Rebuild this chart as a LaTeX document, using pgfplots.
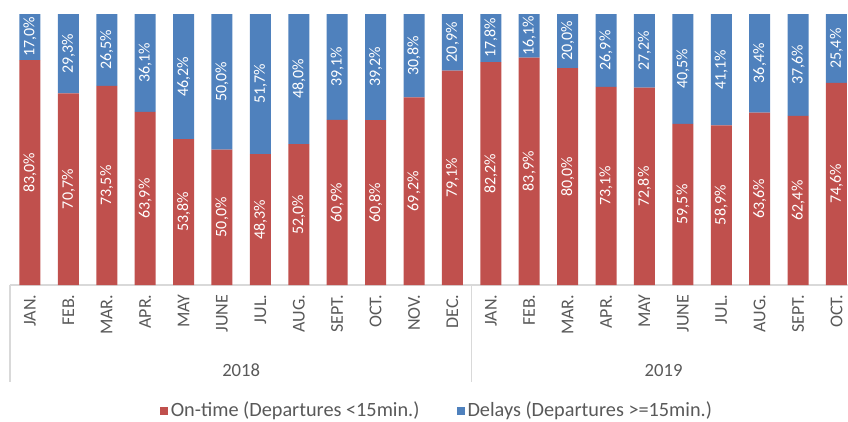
\documentclass[border=0pt]{standalone}
\usepackage{pgfplots}
\pgfplotsset{compat=1.18}
\usepackage{pgfplotstable}
\usepackage{fontspec}
\setmainfont{Carlito}
\definecolor{ontime}{HTML}{C0504D}
\definecolor{delay}{HTML}{4F81BD}
\definecolor{txt}{HTML}{595959}
\definecolor{gridc}{HTML}{D9D9D9}

\pgfplotstableread{
x on del
0 83.0 17.0
1 70.7 29.3
2 73.5 26.5
3 63.9 36.1
4 53.8 46.2
5 50.0 50.0
6 48.3 51.7
7 52.0 48.0
8 60.9 39.1
9 60.8 39.2
10 69.2 30.8
11 79.1 20.9
12 82.2 17.8
13 83.9 16.1
14 80.0 20.0
15 73.1 26.9
16 72.8 27.2
17 59.5 40.5
18 58.9 41.1
19 63.6 36.4
20 62.4 37.6
21 74.6 25.4
}\data

\pgfplotsset{base/.style={width=628.5pt, height=203.25pt, scale only axis,
  xmin=-0.52, xmax=21.3, ymin=0, ymax=100, clip=false}}

\begin{document}
\begin{tikzpicture}
\path[use as bounding box] (-7.5pt,-102pt) rectangle (628.5pt,213.75pt);
\begin{axis}[base, ybar stacked, bar width=15.75pt,
  axis y line=none, axis x line*=bottom,
  x axis line style={draw=gridc, line width=0.8pt},
  xtick={0,...,21},
  xticklabels={JAN.,FEB.,MAR.,APR.,MAY,JUNE,JUL.,AUG.,SEPT.,OCT.,NOV.,DEC.,JAN.,FEB.,MAR.,APR.,MAY,JUNE,JUL.,AUG.,SEPT.,OCT.},
  major tick length=0pt,
  x tick label style={rotate=90, anchor=east, font=\fontsize{13.5}{16}\selectfont, text=txt, inner sep=0pt, inner xsep=7pt},
  legend style={at={(0.51,-0.461)}, anchor=center, legend columns=2, draw=none, fill=none,
    font=\fontsize{15.2}{17}\selectfont, text=txt,
    /tikz/every even column/.append style={column sep=26pt}},
  legend image code/.code={\fill[#1] (0pt,-3.5pt) rectangle (6pt,2.5pt);},
]
\addplot[fill=ontime, draw=none] table[x=x,y=on]{\data};
\addlegendentry{On-time (Departures <15min.)}
\addplot[fill=delay, draw=none] table[x=x,y=del]{\data};
\addlegendentry{Delays (Departures >=15min.)}
\draw[gridc, line width=0.8pt] (rel axis cs:0,0) -- (rel axis cs:0,-0.358);
\draw[gridc, line width=0.8pt] (axis cs:11.5,0) -- ({axis cs:11.5,0} |- {rel axis cs:0,-0.358});
\node[font=\fontsize{14}{16}\selectfont, text=txt] at ({axis cs:5.5,0} |- {rel axis cs:0,-0.314}) {2018};
\node[font=\fontsize{14}{16}\selectfont, text=txt] at ({axis cs:16.5,0} |- {rel axis cs:0,-0.314}) {2019};
\end{axis}
\begin{axis}[base, hide axis,
  point meta=explicit,
  nodes near coords={\pgfmathprintnumber[fixed, fixed zerofill, precision=1, use comma, assume math mode=true]{\pgfplotspointmeta}\%},
  every node near coord/.append style={rotate=90, anchor=center, text=white, font=\fontsize{12}{14}\selectfont, inner sep=0pt},
]
\addplot[only marks, mark=text, text mark={}, mark size=0pt] table[x=x, y expr=\thisrow{on}/2, meta=on]{\data};
\addplot[only marks, mark=text, text mark={}, mark size=0pt] table[x=x, y expr=\thisrow{on}+\thisrow{del}/2, meta=del]{\data};
\end{axis}
\end{tikzpicture}
\end{document}
